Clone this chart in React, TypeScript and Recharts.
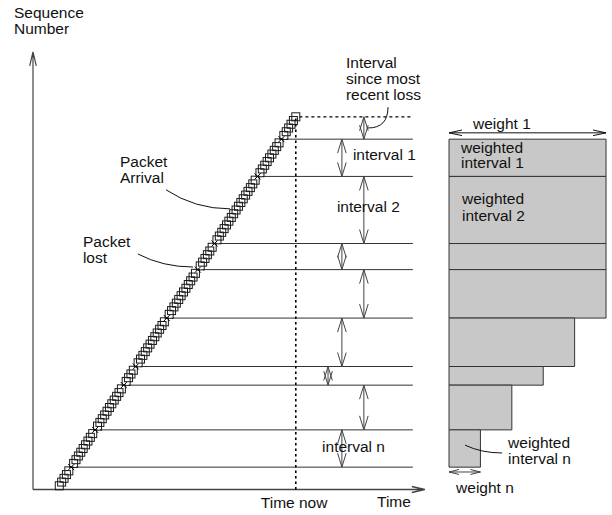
import React from "react";
import {
  ComposedChart,
  Scatter,
  XAxis,
  YAxis,
  ReferenceLine,
  ReferenceArea,
  ReferenceDot,
} from "recharts";

// packets: sequence number and arrival time (time units)
const packetSeq = [
  1, 2, 3, 4, 5, 6, 7, 8, 9, 10, 11, 12, 13, 14, 15, 16, 17, 18, 19, 20,
  21, 22, 23, 24, 25, 26, 27, 28, 29, 30, 31, 32, 33, 34, 35, 36, 37, 38, 39, 40,
  41, 42, 43, 44, 45, 46, 47, 48, 49, 50, 51, 52, 53, 54, 55, 56, 57, 58, 59, 60,
  61, 62, 63, 64, 65, 66, 67, 68, 69, 70, 71, 72, 73, 74, 75, 76, 77, 78, 79, 80,
  81, 82, 83, 84, 85, 86, 87, 88, 89, 90, 91, 92, 93, 94, 95, 96, 97, 98, 99, 100,
];
const packetTime = [
  11, 12, 13, 14, 15, 16, 17, 18, 19, 20, 21, 22, 23, 24, 25, 26, 27, 28, 29, 30,
  31, 32, 33, 34, 35, 36, 37, 38, 39, 40, 41, 42, 43, 44, 45, 46, 47, 48, 49, 50,
  51, 52, 53, 54, 55, 56, 57, 58, 59, 60, 61, 62, 63, 64, 65, 66, 67, 68, 69, 70,
  71, 72, 73, 74, 75, 76, 77, 78, 79, 80, 81, 82, 83, 84, 85, 86, 87, 88, 89, 90,
  91, 92, 93, 94, 95, 96, 97, 98, 99, 100, 101, 102, 103, 104, 105, 106, 107, 108, 109, 110,
];
const lostSeq = [94, 84, 66, 59, 46, 33, 28, 16, 6];
const intervalWeights = [1, 1, 1, 1, 0.8, 0.6, 0.4, 0.2];
const timeNow = 110;
const lastSeq = 100;

// layout in axis units
const W = 612;
const H = 515;
const TIME_DOMAIN: [number, number] = [-13.81, 242.36];
const SEQ_DOMAIN: [number, number] = [-6.84, 131.34];
const WEIGHT_DOMAIN: [number, number] = [-2.86, 1.038];
const LINE_END = 159;
const LINE_GAP = 2;
const ARROW_X = [138.5, 129.3, 138.5, 129.3, 138.5, 129.3, 123.5, 138.5, 129.3];

const FONT = "'Liberation Sans', Arial, Helvetica, sans-serif";
const INK = "#111";
const GREY = "#444";

const received = packetSeq
  .map((s, i) => ({ t: packetTime[i], s }))
  .filter((p) => !lostSeq.includes(p.s));
const lost = packetSeq
  .map((s, i) => ({ t: packetTime[i], s }))
  .filter((p) => lostSeq.includes(p.s));
const timeOf = (s: number) => packetTime[packetSeq.indexOf(s)];

// interval boundaries, top first: [since most recent loss, interval 1 .. n]
const bounds = [lastSeq, ...lostSeq];
// right-hand corners of the weighted interval boxes (keeps the weight axis alive)
const weightCorners = intervalWeights.map((w, i) => ({ t: w, s: bounds[i + 1] }));

const head = (x: number, y: number, ux: number, uy: number, len: number, half: number) => {
  const bx = x - ux * len;
  const by = y - uy * len;
  return `M${bx - uy * half},${by + ux * half} L${x},${y} L${bx + uy * half},${by - ux * half}`;
};

const arrowShape = (len: number, half: number, both: boolean, color: string, width = 1) => (p: any) => {
  const { x1, y1, x2, y2 } = p;
  const L = Math.hypot(x2 - x1, y2 - y1) || 1;
  const ux = (x2 - x1) / L;
  const uy = (y2 - y1) / L;
  let d = `M${x1},${y1} L${x2},${y2} ` + head(x2, y2, ux, uy, len, half);
  if (both) d += " " + head(x1, y1, -ux, -uy, len, half);
  return <path d={d} fill="none" stroke={color} strokeWidth={width} />;
};

// curved leader; bend "v" leaves vertically, "h" arrives horizontally
const leaderShape = (bend: "v" | "h") => (p: any) => {
  const { x1, y1, x2, y2 } = p;
  const cx = bend === "v" ? x1 : x1 + 0.45 * (x2 - x1);
  const cy = y2;
  return <path d={`M${x1},${y1} Q${cx},${cy} ${x2},${y2}`} fill="none" stroke={INK} strokeWidth={1} />;
};

const textShape = (lines: string[], step = 16, anchor: "start" | "middle" = "start") => (p: any) => (
  <text x={p.cx} y={p.cy} fontFamily={FONT} fontSize={15.5} fill={INK} textAnchor={anchor}>
    {lines.map((l, i) => (
      <tspan key={i} x={p.cx} dy={i === 0 ? 0 : step}>
        {l}
      </tspan>
    ))}
  </text>
);

const squareShape = (p: any) => (
  <rect x={p.cx - 4} y={p.cy - 4} width={8} height={8} fill="none" stroke="#1a1a1a" strokeWidth={1} />
);
const crossShape = (p: any) => (
  <path
    d={`M${p.cx - 3},${p.cy - 3} L${p.cx + 3},${p.cy + 3} M${p.cx - 3},${p.cy + 3} L${p.cx + 3},${p.cy - 3}`}
    stroke="#000"
    strokeWidth={1}
  />
);
const noShape = () => <g />;

const note = (key: string, x: number, y: number, lines: string[], axis = "time", step = 16, anchor: "start" | "middle" = "start") => (
  <ReferenceDot key={key} xAxisId={axis} x={x} y={y} r={0} ifOverflow="visible" shape={textShape(lines, step, anchor)} />
);

export default function App() {
  return (
    <div style={{ position: "absolute", left: 0, top: 0, width: W, height: H, background: "#fff" }}>
      <ComposedChart width={W} height={H} margin={{ top: 0, right: 0, bottom: 0, left: 0 }}>
        <XAxis xAxisId="time" dataKey="t" type="number" domain={TIME_DOMAIN} allowDataOverflow hide />
        <XAxis xAxisId="w" dataKey="t" type="number" domain={WEIGHT_DOMAIN} allowDataOverflow hide />
        <YAxis dataKey="s" type="number" domain={SEQ_DOMAIN} allowDataOverflow hide />

        <Scatter xAxisId="w" data={weightCorners} shape={noShape} isAnimationActive={false} />

        {/* weighted intervals */}
        {intervalWeights.map((w, i) => (
          <ReferenceArea
            key={`wi${i}`}
            xAxisId="w"
            x1={0}
            x2={w}
            y1={bounds[i + 2]}
            y2={bounds[i + 1]}
            ifOverflow="visible"
            fill="#c8c8c8"
            fillOpacity={1}
            stroke="#333"
            strokeWidth={1}
          />
        ))}

        {/* axes */}
        <ReferenceLine xAxisId="time" segment={[{ x: 0, y: 0 }, { x: 0, y: 117.4 }]} shape={arrowShape(14, 3.3, false, GREY, 1.2)} />
        <ReferenceLine xAxisId="time" segment={[{ x: 0, y: 0 }, { x: 164, y: 0 }]} shape={arrowShape(13, 3, false, GREY, 1.4)} />

        {/* loss lines */}
        {lostSeq.map((s) => (
          <ReferenceLine
            key={`l${s}`}
            xAxisId="time"
            segment={[{ x: timeOf(s) + LINE_GAP, y: s }, { x: LINE_END, y: s }]}
            stroke="#333"
            strokeWidth={1}
          />
        ))}
        <ReferenceLine
          xAxisId="time"
          segment={[{ x: timeNow + 1.5, y: lastSeq }, { x: LINE_END, y: lastSeq }]}
          stroke="#000"
          strokeWidth={1.2}
          strokeDasharray="3 3"
        />
        <ReferenceLine
          xAxisId="time"
          segment={[{ x: timeNow, y: 0 }, { x: timeNow, y: lastSeq }]}
          stroke="#000"
          strokeWidth={1.6}
          strokeDasharray="2.5 3"
        />

        {/* interval arrows */}
        {ARROW_X.map((x, i) => (
          <ReferenceLine
            key={`a${i}`}
            xAxisId="time"
            segment={[{ x, y: bounds[i] }, { x, y: bounds[i + 1] }]}
            shape={arrowShape(14, 4.3, true, GREY)}
          />
        ))}

        {/* weight arrows */}
        <ReferenceLine xAxisId="w" ifOverflow="visible" segment={[{ x: 0, y: 95.7 }, { x: intervalWeights[0], y: 95.7 }]} shape={arrowShape(13, 2.8, true, INK)} />
        <ReferenceLine xAxisId="w" ifOverflow="visible" segment={[{ x: 0, y: 4.7 }, { x: intervalWeights[7], y: 4.7 }]} shape={arrowShape(10, 2.5, true, GREY)} />

        {/* leaders */}
        <ReferenceLine xAxisId="time" segment={[{ x: 148.6, y: 102.6 }, { x: 140.2, y: 97.0 }]} shape={leaderShape("v")} />
        <ReferenceLine xAxisId="time" segment={[{ x: 55.7, y: 80.4 }, { x: 82.5, y: 75.3 }]} shape={leaderShape("h")} />
        <ReferenceLine xAxisId="time" segment={[{ x: 43.9, y: 63.2 }, { x: 67.0, y: 59.7 }]} shape={leaderShape("h")} />
        <ReferenceLine xAxisId="w" ifOverflow="visible" segment={[{ x: 0.102, y: 11.9 }, { x: 0.338, y: 9.8 }]} shape={leaderShape("h")} />

        {/* packets */}
        <Scatter xAxisId="time" data={received} shape={squareShape} isAnimationActive={false} />
        <Scatter xAxisId="time" data={lost} shape={crossShape} isAnimationActive={false} />

        {/* text */}
        {note("seq", -7.95, 126.5, ["Sequence", "Number"], "time", 16)}
        {note("since", 131.0, 113.0, ["Interval", "since most", "recent loss"])}
        {note("i1", 133.9, 88.3, ["interval 1"])}
        {note("i2", 127.2, 74.5, ["interval 2"])}
        {note("in", 121.0, 10.1, ["interval n"])}
        {note("arr", 36.4, 86.5, ["Packet", "Arrival"])}
        {note("lost", 20.9, 65.1, ["Packet", "lost"])}
        {note("now", timeNow - 0.7, -5.0, ["Time now"], "time", 16, "middle")}
        {note("time", 144, -4.6, ["Time"])}
        {note("w1", 0.153, 96.6, ["weight 1"], "w")}
        {note("wi1", 0.076, 90.4, ["weighted", "interval 1"], "w", 15.5)}
        {note("wi2", 0.083, 76.6, ["weighted", "interval 2"], "w", 17)}
        {note("win", 0.376, 11.1, ["weighted", "interval n"], "w", 16)}
        {note("wn", 0.045, -0.94, ["weight n"], "w")}
      </ComposedChart>
    </div>
  );
}
